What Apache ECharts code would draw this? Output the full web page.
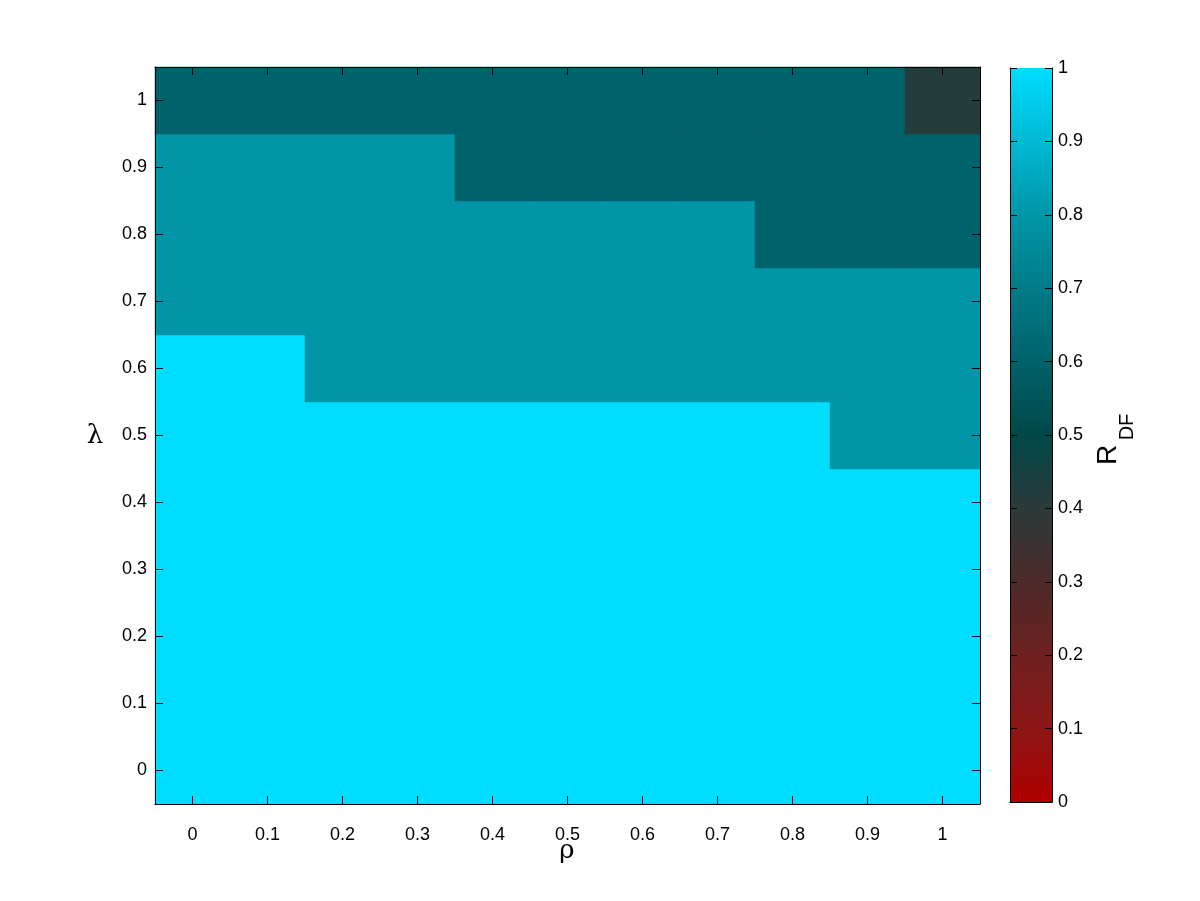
<!DOCTYPE html>
<html>
<head>
<meta charset="utf-8">
<script src="https://cdn.jsdelivr.net/npm/echarts@6/dist/echarts.min.js"></script>
<style>html,body{margin:0;padding:0;background:#fff}#c{width:1200px;height:901px}</style>
</head>
<body>
<div id="c"></div>
<script>
// ---- data ----
const rhoLabels = ['0','0.1','0.2','0.3','0.4','0.5','0.6','0.7','0.8','0.9','1'];
const lambdaLabels = ['0','0.1','0.2','0.3','0.4','0.5','0.6','0.7','0.8','0.9','1'];
// R_DF values, one row per lambda (from 0 to 1), columns rho 0..1
const row00 = [1,1,1,1,1,1,1,1,1,1,1];
const row01 = [1,1,1,1,1,1,1,1,1,1,1];
const row02 = [1,1,1,1,1,1,1,1,1,1,1];
const row03 = [1,1,1,1,1,1,1,1,1,1,1];
const row04 = [1,1,1,1,1,1,1,1,1,1,1];
const row05 = [1,1,1,1,1,1,1,1,1,0.8,0.8];
const row06 = [1,1,0.8,0.8,0.8,0.8,0.8,0.8,0.8,0.8,0.8];
const row07 = [0.8,0.8,0.8,0.8,0.8,0.8,0.8,0.8,0.8,0.8,0.8];
const row08 = [0.8,0.8,0.8,0.8,0.8,0.8,0.8,0.8,0.6,0.6,0.6];
const row09 = [0.8,0.8,0.8,0.8,0.6,0.6,0.6,0.6,0.6,0.6,0.6];
const row10 = [0.6,0.6,0.6,0.6,0.6,0.6,0.6,0.6,0.6,0.6,0.42];
const rows = [row00,row01,row02,row03,row04,row05,row06,row07,row08,row09,row10];
const colorbarTicks = [0,0.1,0.2,0.3,0.4,0.5,0.6,0.7,0.8,0.9,1];
// colormap sampled at 0, 0.1, ..., 1
const cmap = ['#b00000','#8c1616','#6e2020','#4d2a2a','#2c3a3a','#004848','#00626a','#007b88','#0096a8','#00b9d4','#00ddff'];

const heatData = [];
rows.forEach((r, yi) => r.forEach((v, xi) => heatData.push([xi, yi, v])));

const font = 'Liberation Sans, Arial, sans-serif';
const labelStyle = {color:'#000', fontFamily: font, fontSize: 18};
const lineStyle = {lineStyle:{color:'#000', width:1}};
const tick = () => ({show:true, inside:true, alignWithLabel:true, length:8, lineStyle:{color:'#000', width:1}});
const vtick = () => ({show:true, inside:true, length:7, lineStyle:{color:'#000', width:1}});

const chart = echarts.init(document.getElementById('c'));
chart.setOption({
  backgroundColor: '#fff',
  animation: false,
  grid: [
    {left:155, top:67, width:825, height:737},
    {left:1010, top:68, width:42, height:734}
  ],
  xAxis: [
    {gridIndex:0, type:'category', data: rhoLabels, position:'bottom', z:10,
     axisLine:{show:true, ...lineStyle}, axisTick:tick(),
     axisLabel:{...labelStyle, margin:22}, splitLine:{show:false}},
    {gridIndex:0, type:'category', data: rhoLabels, position:'top', z:10,
     axisLine:{show:true, ...lineStyle}, axisTick:tick(),
     axisLabel:{show:false}, splitLine:{show:false}},
    {gridIndex:1, type:'category', data:['c'], position:'bottom', z:10,
     axisLine:{show:true, ...lineStyle}, axisTick:{show:false}, axisLabel:{show:false}},
    {gridIndex:1, type:'category', data:['c'], position:'top', z:10,
     axisLine:{show:true, ...lineStyle}, axisTick:{show:false}, axisLabel:{show:false}}
  ],
  yAxis: [
    {gridIndex:0, type:'category', data: lambdaLabels, position:'left', z:10,
     axisLine:{show:true, ...lineStyle}, axisTick:tick(),
     axisLabel:{...labelStyle, margin:8}, splitLine:{show:false}},
    {gridIndex:0, type:'category', data: lambdaLabels, position:'right', z:10,
     axisLine:{show:true, ...lineStyle}, axisTick:tick(),
     axisLabel:{show:false}, splitLine:{show:false}},
    {gridIndex:1, type:'value', min:0, max:1, interval:0.1, position:'right', z:10,
     axisLine:{show:true, ...lineStyle}, axisTick:vtick(),
     axisLabel:{...labelStyle, margin:6, formatter: v => String(Math.round(v*10)/10)}, splitLine:{show:false}},
    {gridIndex:1, type:'value', min:0, max:1, interval:0.1, position:'left', z:10,
     axisLine:{show:true, ...lineStyle}, axisTick:vtick(),
     axisLabel:{show:false}, splitLine:{show:false}}
  ],
  visualMap: {
    show:false, type:'continuous', min:0, max:1, seriesIndex:0,
    inRange:{color: cmap}
  },
  series: [
    {type:'heatmap', xAxisIndex:0, yAxisIndex:0, data: heatData, z:1, itemStyle:{borderWidth:0}, emphasis:{disabled:true}},
    {type:'bar', xAxisIndex:2, yAxisIndex:2, data:[colorbarTicks[colorbarTicks.length-1]], barWidth:'100%', z:1,
     itemStyle:{color: new echarts.graphic.LinearGradient(0,1,0,0, cmap.map((c,i)=>({offset: colorbarTicks[i], color:c})))}}
  ],
  graphic: [
    {type:'text', x:95, y:436, style:{text:'λ', font:'26px "DejaVu Serif", serif', fill:'#000', align:'center', verticalAlign:'middle'}},
    {type:'text', x:567, y:851, style:{text:'ρ', font:'26px "DejaVu Serif", serif', fill:'#000', align:'center', verticalAlign:'middle'}},
    {type:'text', x:1108, y:455, rotation:Math.PI/2, style:{text:'R', font:'28px "Liberation Sans", sans-serif', fill:'#000', align:'center', verticalAlign:'middle'}},
    {type:'text', x:1127, y:427, rotation:Math.PI/2, style:{text:'DF', font:'20px "Liberation Sans", sans-serif', fill:'#000', align:'center', verticalAlign:'middle'}}
  ]
});
</script>
</body>
</html>
